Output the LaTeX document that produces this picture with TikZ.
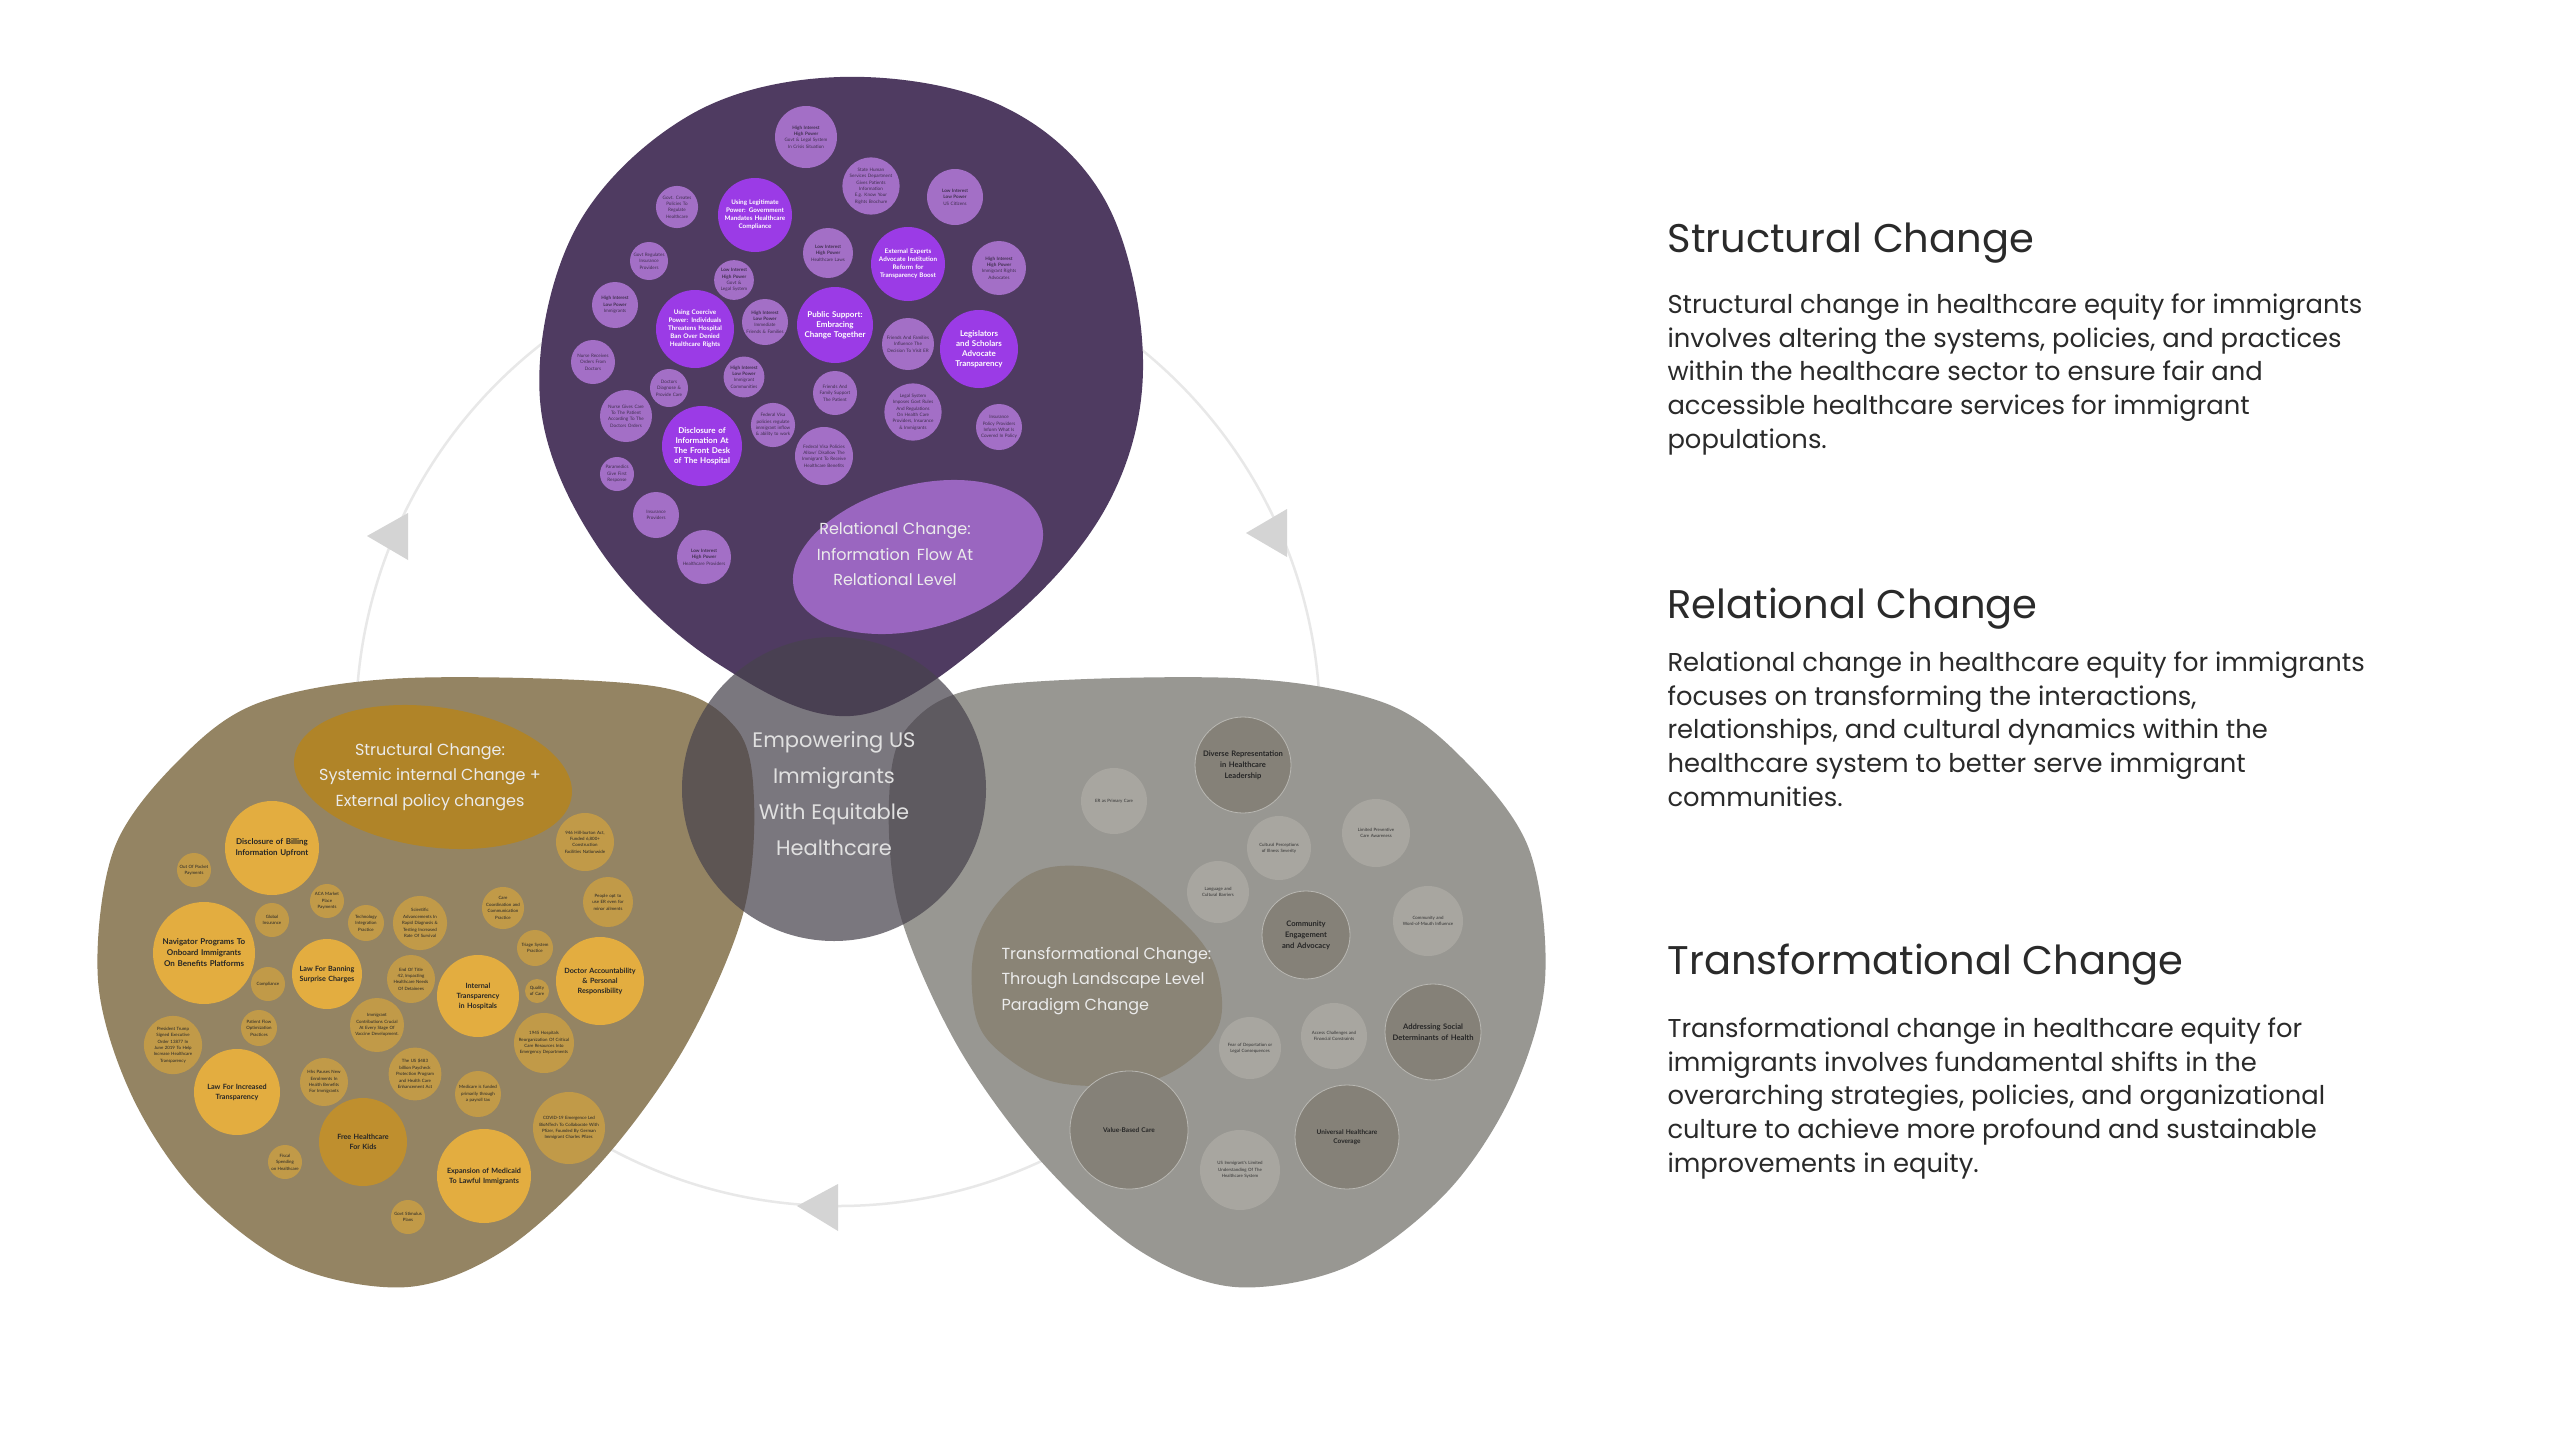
\documentclass[tikz,border=0pt]{standalone}
\usepackage{fontspec}
\setmainfont{Poppins}
\newfontfamily\bubfont{Lato}
\usetikzlibrary{shapes.geometric}
\definecolor{purbg}{HTML}{4F3B61}
\definecolor{purl}{HTML}{A36FC6}
\definecolor{purb}{HTML}{9B3BE6}
\definecolor{purblob}{HTML}{9A66C0}
\definecolor{goldbg}{HTML}{948463}
\definecolor{goldb}{HTML}{E3AD40}
\definecolor{golds}{HTML}{C19A48}
\definecolor{goldd}{HTML}{BF8F2E}
\definecolor{goldblob}{HTML}{B08428}
\definecolor{greybg}{HTML}{989792}
\definecolor{greyd}{HTML}{858178}
\definecolor{greyl}{HTML}{A8A6A0}
\definecolor{greyblob}{HTML}{8A8476}
\definecolor{ringc}{HTML}{E8E8E8}
\definecolor{arrc}{HTML}{D4D4D4}
\definecolor{bodyc}{HTML}{2A2A2A}
\newcommand\bb[6]{\node[#5, minimum size=\dimexpr #4pt*2\relax, text width=\dimexpr #4pt*17/10\relax] (#1) at (#2,#3) {#6};}
\newcommand\hp[1]{\textbf{#1}\\}
\begin{document}
\hyphenpenalty=10000 \exhyphenpenalty=10000
\begin{tikzpicture}[x=1pt,y=-1pt,
  bub/.style={circle, inner sep=0pt, align=center},
  pl/.style={bub, fill=purl, text=purbg!80!black, font=\bubfont\fontsize{4.6}{6.4}\selectfont},
  pb/.style={bub, fill=purb, text=white, font=\bubfont\bfseries\fontsize{6.3}{8}\selectfont},
  gb/.style={bub, fill=goldb, text=black!85, font=\bubfont\bfseries\fontsize{8}{11}\selectfont},
  gs/.style={bub, fill=golds, text=black!85, font=\bubfont\fontsize{4.4}{6.4}\selectfont},
  gd/.style={gb, fill=goldd},
  xd/.style={bub, fill=greyd, draw=greyl!80!white, line width=0.8pt, text=black!85, font=\bubfont\bfseries\fontsize{7.6}{11}\selectfont},
  xl/.style={bub, fill=greyl, text=black!80, font=\bubfont\fontsize{4.4}{6.4}\selectfont},
  blobtxt/.style={text=white!92!black, align=center, font=\fontsize{16}{25.5}\selectfont},
  head/.style={anchor=base west, text=bodyc, font=\fontsize{40}{48}\selectfont},
  body/.style={anchor=north west, text=bodyc, align=left, font=\fontsize{25.8}{33.8}\selectfont},
  arr/.style={fill=arrc, draw=none}]
\useasboundingbox[fill=white] (0,0) rectangle (2560,1429);
% ring and arrows
\coordinate (rc) at (838,724);
\draw[ringc, line width=2.5pt] (rc) circle[radius=482];
\coordinate (a1) at (367,536); \coordinate (a2) at (1246,533); \coordinate (a3) at (797,1206);
\fill[arr] (a1) -- ++(41,-23) -- ++(0,47) -- cycle;
\fill[arr] (a2) -- ++(41,-24) -- ++(0,48) -- cycle;
\fill[arr] (a3) -- ++(41,-22) -- ++(0,47) -- cycle;
% blobs
\fill[purbg] plot[smooth cycle, tension=0.6] coordinates {(840,77) (1000,105) (1105,200) (1143,360) (1110,500) (1010,620) (860,715) (720,665) (600,550) (540,400) (575,230) (690,115)};
\fill[goldbg] plot[smooth cycle, tension=0.55] coordinates {(261,702) (408,678) (653,686) (735,727) (754,800) (743,914) (686,1045) (604,1159) (506,1249) (408,1287) (294,1266) (196,1192) (131,1094) (98,980) (114,849) (180,759)};
\fill[greybg] plot[smooth cycle, tension=0.55] coordinates {(1382,702) (1235,678) (990,686) (908,727) (889,800) (900,914) (957,1045) (1039,1159) (1137,1249) (1235,1287) (1349,1266) (1447,1192) (1512,1094) (1545,980) (1529,849) (1463,759)};
% inner blobs
\fill[purblob, rotate around={15:(918,557)}] (918,557) ellipse[x radius=128, y radius=72];
\node[blobtxt] (rel) at (895,554) {Relational Change:\\Information\,\ Flow At\\Relational Level};
\fill[goldblob, rotate around={-8:(433,777)}] (433,777) ellipse[x radius=140, y radius=70];
\node[blobtxt] (str) at (430,777) {Structural Change:\\Systemic internal Change +\\External policy changes};
\fill[greyblob] plot[smooth cycle, tension=0.8] coordinates {(1080,866) (1170,910) (1221,990) (1190,1060) (1100,1086) (1010,1060) (972,990) (1000,900)};
\node[blobtxt, align=left, anchor=west] (tra) at (998,981) {Transformational Change:\\Through Landscape Level\\Paradigm Change};
% purple bubbles
\bb{p1}{806}{137}{31}{pl}{\hp{High Interest}\hp{High Power}Govt \& Legal System In Crisis Situation}
\bb{p2}{871}{186}{26}{pl}{State Human Services Department Gives Patients Information E.g. Know Your Rights Brochure}
\bb{p3}{955}{197}{28}{pl}{\hp{Low Interest}\hp{Low Power}US Citizens}
\bb{p4}{677}{207}{21}{pl}{Govt. Creates Policies To Regulate Healthcare}
\bb{p5}{755}{215}{37}{pb}{Using Legitimate Power: Government Mandates Healthcare Compliance}
\bb{p6}{828}{253}{25}{pl}{\hp{Low Interest}\hp{High Power}Healthcare Laws}
\bb{p7}{908}{264}{37}{pb}{External Experts Advocate Institution Reform for Transparency Boost}
\bb{p8}{999}{268}{27}{pl}{\hp{High Interest}\hp{High Power}Immigrant Rights Advocates}
\bb{p9}{649}{261}{19}{pl}{Govt Regulates Insurance Providers}
\bb{p10}{734}{280}{19}{pl}{\hp{Low Interest}\hp{High Power}Govt \& Legal System}
\bb{p11}{615}{305}{23}{pl}{\hp{High Interest}\hp{Low Power}Immigrants}
\bb{p12}{695}{329}{39}{pb}{Using Coercive Power: Individuals Threatens Hospital Ban Over Denied Healthcare Rights}
\bb{p13}{765}{322}{23}{pl}{\hp{High Interest}\hp{Low Power}Immediate Friends \& Families}
\bb{p14}{835}{325}{38}{pb, font=\bubfont\bfseries\fontsize{8}{10}\selectfont}{Public Support: Embracing Change Together}
\bb{p15}{908}{344}{26}{pl}{Friends And Families Influence The Decision To Visit ER}
\bb{p16}{979}{349}{39}{pb, font=\bubfont\bfseries\fontsize{8}{10}\selectfont}{Legislators and Scholars Advocate Transparency}
\bb{p17}{593}{362}{22}{pl}{Nurse Receives Orders From Doctors}
\bb{p18}{744}{377}{20}{pl}{\hp{High Interest}\hp{Low Power}Immigrant Communities}
\bb{p19}{669}{388}{19}{pl}{Doctors Diagnose \& Provide Care}
\bb{p20}{626}{416}{26}{pl}{Nurse Gives Care To The Patient According To The Doctors Orders}
\bb{p21}{835}{393}{22}{pl}{Friends And Family Support The Patient}
\bb{p22}{913}{412}{26}{pl}{Legal System Imposes Govt Rules And Regulations On Health Care Providers, Insurance \& Immigrants}
\bb{p23}{702}{446}{40}{pb, font=\bubfont\bfseries\fontsize{8}{10}\selectfont}{Disclosure of Information At The Front Desk of The Hospital}
\bb{p24}{773}{425}{22}{pl}{Federal Visa policies regulate immigrant inflow \& ability to work}
\bb{p25}{999}{427}{23}{pl}{Insurance Policy Providers Inform What Is Covered In Policy}
\bb{p26}{824}{456}{29}{pl}{Federal Visa Policies Allow/ Disallow The Immigrant To Receive Healthcare Benefits}
\bb{p27}{617}{474}{17}{pl}{Paramedics Give First Response}
\bb{p28}{656}{515}{23}{pl}{Insurance Providers}
\bb{p29}{704}{557}{27}{pl}{\hp{Low Interest}\hp{High Power}Healthcare Providers}
% gold bubbles
\bb{g1}{585}{842}{29}{gs}{946 Hill-burton Act, Funded 6,800+ Construction Facilities Nationwide}
\bb{g2}{272}{848}{47}{gb}{Disclosure of Billing Information Upfront}
\bb{g3}{194}{870}{17}{gs}{Out Of Pocket Payments}
\bb{g4}{608}{902}{25}{gs}{People opt to use ER even for minor ailments}
\bb{g5}{327}{901}{17}{gs}{ACA Market Place Payments}
\bb{g6}{272}{920}{17}{gs}{Global Insurance}
\bb{g7}{366}{923}{18}{gs}{Technology Integration Practice}
\bb{g8}{420}{923}{27}{gs}{Scientific Advancements In Rapid Diagnosis \& Testing Increased Rate Of Survival}
\bb{g9}{503}{908}{21}{gs}{Care Coordination and Communication Practice}
\bb{g10}{204}{953}{51}{gb}{Navigator Programs To Onboard Immigrants On Benefits Platforms}
\bb{g11}{535}{948}{18}{gs}{Triage System Practice}
\bb{g12}{327}{974}{35}{gb, font=\bubfont\bfseries\fontsize{7.2}{10}\selectfont}{Law For Banning Surprise Charges}
\bb{g13}{600}{981}{44}{gb, font=\bubfont\bfseries\fontsize{7.2}{10}\selectfont}{Doctor Accountability \& Personal Responsibility}
\bb{g14}{411}{979}{24}{gs}{End Of Title 42, Impacting Healthcare Needs Of Detainees}
\bb{g15}{268}{984}{17}{gs}{Compliance}
\bb{g16}{537}{991}{12}{gs}{Quality of Care}
\bb{g17}{478}{996}{41}{gb, font=\bubfont\bfseries\fontsize{7.2}{10}\selectfont}{Internal Transparency in Hospitals}
\bb{g18}{259}{1028}{18}{gs}{Patient Flow Optimization Practices}
\bb{g19}{377}{1025}{27}{gs}{Immigrant Contributions Crucial At Every Stage Of Vaccine Development.}
\bb{g20}{544}{1043}{30}{gs}{1945 Hospitals Reorganization Of Critical Care Resources Into Emergency Departments}
\bb{g21}{173}{1045}{27}{gs}{President Trump Signed Executive Order 13877 In June 2019 To Help Increase Healthcare Transparency}
\bb{g22}{237}{1092}{43}{gb, font=\bubfont\bfseries\fontsize{7.2}{10}\selectfont}{Law For Increased Transparency}
\bb{g23}{324}{1082}{24}{gs}{Hhs Pauses New Enrolments In Health Benefits For Immigrants}
\bb{g24}{415}{1074}{26}{gs}{The US \$483 billion Paycheck Protection Program and Health Care Enhancement Act}
\bb{g25}{478}{1094}{23}{gs}{Medicare is funded primarily through a payroll tax}
\bb{g26}{569}{1128}{36}{gs}{COVID-19 Emergence Led BioNTech To Collaborate With Pfizer, Founded By German Immigrant Charles Pfizer.}
\bb{g27}{363}{1142}{44}{gd, font=\bubfont\bfseries\fontsize{7.2}{10}\selectfont}{Free Healthcare For Kids}
\bb{g28}{285}{1162}{17}{gs}{Fiscal Spending on Healthcare}
\bb{g29}{484}{1176}{47}{gb, font=\bubfont\bfseries\fontsize{7.2}{10}\selectfont}{Expansion of Medicaid To Lawful Immigrants}
\bb{g30}{408}{1217}{17}{gs}{Govt Stimulus Plans}
% grey bubbles
\bb{t1}{1243}{765}{48}{xd}{Diverse Representation in Healthcare Leadership}
\bb{t2}{1114}{801}{33}{xl}{ER as Primary Care}
\bb{t3}{1376}{833}{34}{xl}{Limited Preventive Care Awareness}
\bb{t4}{1279}{848}{32}{xl}{Cultural Perceptions of Illness Severity}
\bb{t5}{1218}{892}{31}{xl}{Language and Cultural Barriers}
\bb{t6}{1306}{935}{44}{xd}{Community Engagement and Advocacy}
\bb{t7}{1428}{921}{35}{xl}{Community and Word-of-Mouth Influence}
\bb{t8}{1433}{1032}{48}{xd}{Addressing Social Determinants of Health}
\bb{t9}{1334}{1036}{33}{xl}{Access Challenges and Financial Constraints}
\bb{t10}{1250}{1048}{31}{xl}{Fear of Deportation or Legal Consequences}
\bb{t11}{1129}{1130}{59}{xd, font=\bubfont\bfseries\fontsize{6.5}{9}\selectfont}{Value-Based Care}
\bb{t12}{1347}{1137}{52}{xd, font=\bubfont\bfseries\fontsize{6.5}{9.5}\selectfont}{Universal Healthcare Coverage}
\bb{t13}{1240}{1170}{40}{xl}{US Immigrant's Limited Understanding Of The Healthcare System}
% center circle
\node[circle, fill=black!55!purbg!60!gray, fill opacity=0.72, minimum size=304pt, inner sep=0pt] (cc) at (834,789) {};
\node[text=white!88!black, align=center, font=\fontsize{21}{36}\selectfont] (cct) at (834,794) {Empowering US\\Immigrants\\With Equitable\\Healthcare};
% right texts
\node[head] (h1) at (1664,252) {Structural Change};
\node[body] (b1) at (1664,290) {Structural change in healthcare equity for immigrants\\ involves altering the systems, policies, and practices\\ within the healthcare sector to ensure fair and\\ accessible healthcare services for immigrant\\ populations.};
\node[head] (h2) at (1664,618) {Relational Change};
\node[body] (b2) at (1664,648) {Relational change in healthcare equity for immigrants\\ focuses on transforming the interactions,\\ relationships, and cultural dynamics within the\\ healthcare system to better serve immigrant\\ communities.};
\node[head] (h3) at (1664,974) {Transformational Change};
\node[body] (b3) at (1664,1014) {Transformational change in healthcare equity for\\ immigrants involves fundamental shifts in the\\ overarching strategies, policies, and organizational\\ culture to achieve more profound and sustainable\\ improvements in equity.};
\end{tikzpicture}
\end{document}
